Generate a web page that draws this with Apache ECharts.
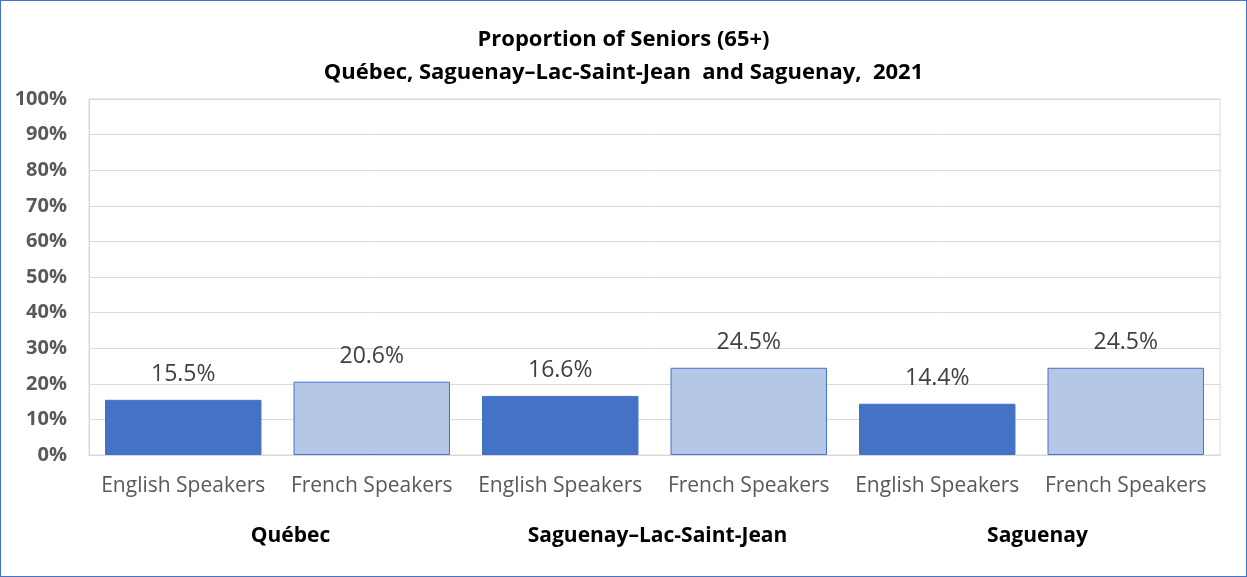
<!DOCTYPE html>
<html>
<head>
<meta charset="utf-8">
<script src="https://cdn.jsdelivr.net/npm/echarts@6/dist/echarts.min.js"></script>
<style>
  html, body { margin: 0; padding: 0; background: #fff; }
  #myChart {
    width: 1247px;
    height: 577px;
    box-sizing: border-box;
    border: 1px solid #4472C4;
  }
</style>
</head>
<body>
<div id="myChart"></div>
<script>
// data
const categories = ['English Speakers', 'French Speakers', 'English Speakers', 'French Speakers', 'English Speakers', 'French Speakers'];
const values = [15.5, 20.6, 16.6, 24.5, 14.4, 24.5];
const regions = ['Québec', 'Saguenay–Lac-Saint-Jean', 'Saguenay'];
const yTicks = [0, 10, 20, 30, 40, 50, 60, 70, 80, 90, 100];

const colors = {
  'English Speakers': '#4472C4',
  'French Speakers': '#B4C7E7'
};
// the group labels sit a little right of their group centre in the original
const regionNudge = [26, 6, 12];

const myChart = echarts.init(document.getElementById('myChart'));
const font = '"Open Sans", Lato, sans-serif';

myChart.setOption({
  animation: false,
  textStyle: { fontFamily: font },
  title: {
    text: 'Proportion of Seniors (65+)\nQuébec, Saguenay–Lac-Saint-Jean  and Saguenay,  2021',
    left: 'center',
    top: 17,
    textStyle: {
      fontFamily: font,
      fontSize: 22,
      fontWeight: 'bold',
      color: '#000',
      lineHeight: 33
    }
  },
  grid: {
    left: 88,
    right: 26,
    top: 98,
    bottom: 121,
    show: true,
    borderColor: '#D9D9D9',
    borderWidth: 1
  },
  xAxis: [{
    type: 'category',
    data: categories,
    axisLine: { lineStyle: { color: '#D9D9D9' } },
    axisTick: { show: false },
    axisLabel: {
      interval: 0,
      margin: 21,
      fontSize: 21,
      color: '#595959',
      fontFamily: font
    }
  }, {
    type: 'category',
    data: regions.map(function (r, i) {
      return { value: r, textStyle: { padding: [0, 0, 0, regionNudge[i]] } };
    }),
    position: 'bottom',
    axisLine: { show: false },
    axisTick: { show: false },
    axisLabel: {
      interval: 0,
      margin: 71,
      fontSize: 21,
      fontWeight: 'bold',
      color: '#000',
      fontFamily: font
    }
  }],
  yAxis: {
    type: 'value',
    min: yTicks[0],
    max: yTicks[yTicks.length - 1],
    interval: 10,
    axisLine: { show: true, lineStyle: { color: '#D9D9D9' } },
    axisTick: { show: false },
    splitLine: { lineStyle: { color: '#D9D9D9' } },
    axisLabel: {
      margin: 22,
      fontSize: 20,
      fontWeight: 'bold',
      color: '#595959',
      fontFamily: font,
      formatter: '{value}%'
    }
  },
  series: [{
    type: 'bar',
    xAxisIndex: 0,
    barCategoryGap: '17%',
    data: values.map(function (v, i) {
      return {
        value: v,
        itemStyle: {
          color: colors[categories[i]],
          borderColor: '#4472C4',
          borderWidth: 1
        }
      };
    }),
    label: {
      show: true,
      position: 'top',
      distance: 14,
      fontSize: 23,
      color: '#404040',
      fontFamily: font,
      formatter: function (p) { return p.value.toFixed(1) + '%'; }
    }
  }]
});

window.addEventListener('resize', function () {
  myChart.resize();
});
</script>
</body>
</html>
